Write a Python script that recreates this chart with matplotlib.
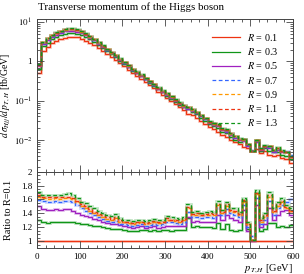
import numpy as np
import matplotlib
matplotlib.use("Agg")
import matplotlib.pyplot as plt
from matplotlib.ticker import MultipleLocator, LogLocator, NullFormatter, FixedLocator

plt.rcParams['font.family'] = ['Liberation Serif', 'DejaVu Serif']
plt.rcParams['mathtext.fontset'] = 'stix'

edges = np.arange(0, 610, 10)

# R = 0.1 reference distribution (fb/GeV)
base_r01 = [0.5, 1.9, 2.4, 2.9, 3.3, 3.7, 4.0, 4.2, 4.2, 4.1,
            3.8, 3.4, 3.0, 2.6, 2.2, 1.85, 1.55, 1.3, 1.08, 0.9,
            0.75, 0.62, 0.51, 0.43, 0.36, 0.30, 0.25, 0.205, 0.17, 0.14,
            0.115, 0.098, 0.082, 0.069, 0.058, 0.046, 0.043, 0.037, 0.031, 0.026,
            0.021, 0.019, 0.016, 0.0135, 0.0118, 0.0102, 0.0088, 0.0078, 0.0065, 0.0062,
            0.0052, 0.0058, 0.0046, 0.0052, 0.0042, 0.0038, 0.0041, 0.0034, 0.0033, 0.0026]

ratio_r03 = [1.30, 1.27, 1.26, 1.27, 1.27, 1.27, 1.28, 1.28, 1.27, 1.26,
             1.25, 1.24, 1.23, 1.22, 1.21, 1.20, 1.19, 1.18, 1.17, 1.17,
             1.16, 1.15, 1.15, 1.15, 1.16, 1.16, 1.15, 1.16, 1.15, 1.16,
             1.16, 1.15, 1.16, 1.16, 1.16, 1.33, 1.20, 1.21, 1.20, 1.20,
             1.20, 1.19, 1.26, 1.18, 1.24, 1.16, 1.15, 1.16, 1.58, 1.18,
             1.02, 1.70, 1.15, 1.18, 1.26, 1.26, 1.20, 1.22, 1.20, 1.23]
ratio_r05 = [1.50, 1.46, 1.45, 1.45, 1.46, 1.45, 1.46, 1.46, 1.44, 1.41,
             1.38, 1.36, 1.34, 1.32, 1.30, 1.28, 1.26, 1.25, 1.25, 1.23,
             1.21, 1.20, 1.19, 1.20, 1.21, 1.19, 1.20, 1.21, 1.19, 1.20,
             1.22, 1.22, 1.21, 1.21, 1.22, 1.35, 1.28, 1.29, 1.28, 1.28,
             1.28, 1.28, 1.38, 1.30, 1.38, 1.33, 1.30, 1.28, 1.45, 1.15,
             1.00, 1.52, 1.20, 1.25, 1.48, 1.30, 1.38, 1.43, 1.45, 1.38]
ratio_r07 = [1.59, 1.58, 1.57, 1.57, 1.58, 1.57, 1.58, 1.58, 1.56, 1.52,
             1.47, 1.44, 1.40, 1.37, 1.34, 1.32, 1.29, 1.27, 1.29, 1.25,
             1.24, 1.23, 1.22, 1.23, 1.24, 1.22, 1.23, 1.25, 1.23, 1.24,
             1.28, 1.27, 1.26, 1.25, 1.27, 1.42, 1.34, 1.35, 1.33, 1.34,
             1.34, 1.33, 1.47, 1.37, 1.46, 1.40, 1.38, 1.34, 1.52, 1.20,
             1.08, 1.62, 1.25, 1.31, 1.58, 1.38, 1.47, 1.52, 1.56, 1.60]
ratio_r09 = [1.64, 1.62, 1.61, 1.61, 1.62, 1.61, 1.62, 1.62, 1.60, 1.56,
             1.51, 1.48, 1.44, 1.40, 1.37, 1.35, 1.32, 1.30, 1.33, 1.28,
             1.27, 1.26, 1.25, 1.26, 1.27, 1.25, 1.26, 1.28, 1.26, 1.27,
             1.31, 1.30, 1.29, 1.28, 1.30, 1.47, 1.37, 1.38, 1.37, 1.38,
             1.38, 1.37, 1.52, 1.40, 1.51, 1.43, 1.42, 1.37, 1.57, 1.24,
             1.01, 1.68, 1.28, 1.35, 1.64, 1.42, 1.51, 1.56, 1.47, 1.43]
ratio_r11 = [1.66, 1.64, 1.63, 1.63, 1.64, 1.63, 1.64, 1.64, 1.62, 1.58,
             1.53, 1.50, 1.46, 1.42, 1.39, 1.37, 1.34, 1.32, 1.35, 1.30,
             1.28, 1.28, 1.26, 1.27, 1.28, 1.26, 1.27, 1.29, 1.27, 1.28,
             1.33, 1.31, 1.30, 1.29, 1.32, 1.49, 1.39, 1.40, 1.38, 1.39,
             1.40, 1.39, 1.54, 1.42, 1.53, 1.45, 1.44, 1.39, 1.59, 1.25,
             1.01, 1.70, 1.30, 1.37, 1.66, 1.44, 1.53, 1.58, 1.49, 1.44]
ratio_r13 = [1.71, 1.67, 1.66, 1.66, 1.67, 1.66, 1.68, 1.69, 1.66, 1.62,
             1.57, 1.55, 1.51, 1.47, 1.44, 1.41, 1.38, 1.36, 1.39, 1.33,
             1.31, 1.30, 1.29, 1.30, 1.31, 1.29, 1.30, 1.32, 1.30, 1.31,
             1.36, 1.34, 1.33, 1.32, 1.35, 1.53, 1.42, 1.43, 1.41, 1.42,
             1.43, 1.42, 1.58, 1.45, 1.57, 1.48, 1.47, 1.42, 1.62, 1.28,
             1.02, 1.74, 1.33, 1.40, 1.71, 1.47, 1.57, 1.62, 1.52, 1.48]

labels = ['$R$ = 0.1', '$R$ = 0.3', '$R$ = 0.5', '$R$ = 0.7', '$R$ = 0.9', '$R$ = 1.1', '$R$ = 1.3']
colors = ['#EE3311', '#109618', '#A020C0', '#3366FF', '#FF9900', '#EE3311', '#109618']
styles = ['-', '-', '-', (0, (3, 2)), (0, (3, 2)), (0, (3, 2)), (0, (3, 2))]

base = np.array(base_r01)
ratios = [np.ones(len(base)), np.array(ratio_r03), np.array(ratio_r05), np.array(ratio_r07),
          np.array(ratio_r09), np.array(ratio_r11), np.array(ratio_r13)]

W, H = 304, 274
fig = plt.figure(figsize=(W / 100, H / 100), dpi=100)
axm = fig.add_axes([37 / W, (H - 171.7) / H, 256 / W, (171.7 - 19) / H])
axr = fig.add_axes([37 / W, (H - 248) / H, 256 / W, (248 - 171.7) / H], sharex=axm)

for r, lab, c, ls in zip(ratios, labels, colors, styles):
    vals = base * r
    axm.stairs(vals, edges, color=c, lw=2.0, alpha=0.25, baseline=None)
    axm.stairs(vals, edges, color=c, lw=0.9, ls=ls, baseline=None, label=lab)
    axr.stairs(r, edges, color=c, lw=2.0, alpha=0.25, baseline=None)
    axr.stairs(r, edges, color=c, lw=0.9, ls=ls, baseline=None)

axm.set_yscale('log')
axm.set_ylim(0.00155, 12.1)
axm.set_xlim(0, 600)
axr.set_ylim(0.9, 2.0)

fs = 6.5
for ax in (axm, axr):
    ax.xaxis.set_major_locator(MultipleLocator(100))
    ax.xaxis.set_minor_locator(MultipleLocator(20))
    ax.tick_params(which='both', direction='in', top=True, right=True, labelsize=fs,
                   color='#444444', width=0.6)
    ax.tick_params(which='major', length=5)
    ax.tick_params(which='minor', length=2.5)
    for s in ax.spines.values():
        s.set_linewidth(0.7)
        s.set_color('#444444')

axm.yaxis.set_major_locator(FixedLocator([0.01, 0.1, 1, 10]))
axm.yaxis.set_minor_locator(LogLocator(base=10, subs=np.arange(2, 10)))
axm.yaxis.set_minor_formatter(NullFormatter())
axm.set_yticklabels(['$10^{-2}$', '$10^{-1}$', '1', '$10^{1}$'])
axm.tick_params(labelbottom=False)

axr.yaxis.set_major_locator(FixedLocator([1, 1.2, 1.4, 1.6, 1.8, 2.0]))
axr.set_yticklabels(['1', '1.2', '1.4', '1.6', '1.8', '2'])
axr.yaxis.set_minor_locator(MultipleLocator(0.05))

axm.set_ylabel(r'$d\,\sigma_{Hjj}/d\,p_{T,H}$ [fb/GeV]', fontsize=7)
axr.set_ylabel('Ratio to R=0.1', fontsize=7.3)
axm.yaxis.set_label_coords(-0.095, 0.5)
axr.yaxis.set_label_coords(-0.095, 0.5)
axr.set_xlabel(r'$p_{T,H}$ [GeV]', fontsize=7.5, loc='right', labelpad=1)

fig.text(38 / W, 1 - 7.5 / H, 'Transverse momentum of the Higgs boson', fontsize=7.8,
         ha='left', va='center')

leg = axm.legend(loc='upper right', bbox_to_anchor=(1 - 15 / 256, 1 - 13 / 152.7),
                 frameon=False, fontsize=7.3, handlelength=2.8, labelspacing=0.32,
                 handletextpad=0.6, borderaxespad=0.0, borderpad=0.0)

fig.savefig('out.png', dpi=100)
